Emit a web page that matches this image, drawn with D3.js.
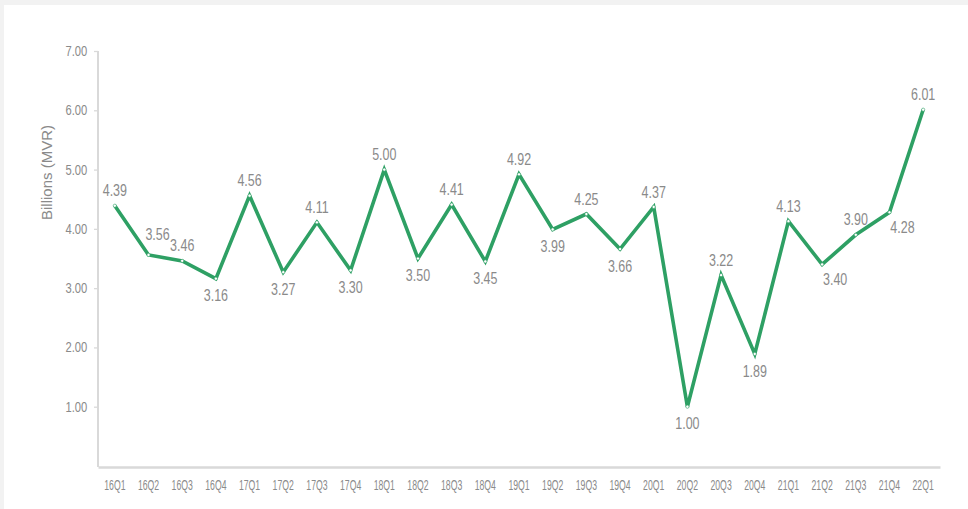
<!DOCTYPE html>
<html>
<head>
<meta charset="utf-8">
<script src="https://cdn.jsdelivr.net/npm/d3@7"></script>
<style>
  html, body { margin: 0; padding: 0; background: #f2f2f2; }
  svg { display: block; }
  text { font-family: "Liberation Sans Narrow", "Liberation Sans", sans-serif; fill: #8a8a8a; }
</style>
</head>
<body>
<div class="chart"></div>
<script>
'use strict';

const quarters = ['16Q1', '16Q2', '16Q3', '16Q4', '17Q1', '17Q2', '17Q3', '17Q4',
  '18Q1', '18Q2', '18Q3', '18Q4', '19Q1', '19Q2', '19Q3', '19Q4',
  '20Q1', '20Q2', '20Q3', '20Q4', '21Q1', '21Q2', '21Q3', '21Q4', '22Q1'];
const values = [4.39, 3.56, 3.46, 3.16, 4.56, 3.27, 4.11, 3.30,
  5.00, 3.50, 4.41, 3.45, 4.92, 3.99, 4.25, 3.66,
  4.37, 1.00, 3.22, 1.89, 4.13, 3.40, 3.90, 4.28, 6.01];
const yTicks = [1, 2, 3, 4, 5, 6, 7];

// where each data label sits relative to its point
const labelPlace = ['above', 'aboveRight', 'above', 'below', 'above', 'below', 'above', 'below',
  'above', 'below', 'above', 'below', 'above', 'below', 'above', 'below',
  'above', 'below', 'above', 'below', 'above', 'belowRight', 'above', 'belowRight', 'above'];
const placeOffset = {
  above: [0, -15],
  aboveRight: [9, -21],
  below: [0, 17],
  belowRight: [13, 15]
};

const FULL_WIDTH = 968;
const FULL_HEIGHT = 509;
const margin = { top: 51, right: 28, bottom: 43, left: 98 };
const WIDTH = FULL_WIDTH - margin.left - margin.right;
const HEIGHT = 466 - margin.top;
const GREEN = '#2ea064';
const GRID = '#d9d9d9';

// the original font is much narrower than anything installed, so squeeze it
const squeeze = (sx) => (sel) => sel.attr('transform', 'scale(' + sx + ',1)');

const svg = d3.select('.chart')
  .append('svg')
    .attr('width', FULL_WIDTH)
    .attr('height', FULL_HEIGHT);

svg.append('rect')
  .attr('x', 4)
  .attr('y', 5)
  .attr('width', FULL_WIDTH - 4)
  .attr('height', FULL_HEIGHT - 5)
  .attr('fill', '#ffffff');

const g = svg.append('g')
  .attr('transform', 'translate(' + margin.left + ',' + margin.top + ')');

const x = d3.scaleBand()
  .domain(quarters)
  .range([0, WIDTH]);

const y = d3.scaleLinear()
  .domain([0, 7])
  .range([HEIGHT, 0]);

const cx = (i) => x(quarters[i]) + x.bandwidth() / 2;

// y axis
const yAxis = g.append('g')
  .call(d3.axisLeft(y).tickValues(yTicks).tickFormat(d3.format('.2f')).tickSize(4).tickPadding(9.5));
yAxis.select('.domain').remove();
yAxis.selectAll('line').attr('stroke', GRID).attr('stroke-width', 1.3);
yAxis.selectAll('text')
  .attr('font-size', '14px')
  .attr('fill', '#8a8a8a')
  .call(squeeze(0.8));

g.append('line')
  .attr('x1', 0).attr('x2', 0)
  .attr('y1', y(7)).attr('y2', HEIGHT + 1)
  .attr('stroke', GRID)
  .attr('stroke-width', 2);

// x axis
const xAxis = g.append('g')
  .attr('transform', 'translate(0,' + (HEIGHT + 1) + ')')
  .call(d3.axisBottom(x).tickSize(0).tickPadding(13));
xAxis.select('.domain').attr('stroke', GRID).attr('stroke-width', 2.5);
xAxis.selectAll('text')
  .attr('font-size', '14.5px')
  .attr('fill', '#8a8a8a')
  .call(squeeze(0.6));

g.append('text')
  .attr('transform', 'rotate(-90)')
  .attr('x', -(y(4.95)))
  .attr('y', -46)
  .attr('text-anchor', 'middle')
  .attr('font-size', '15px')
  .text('Billions (MVR)');

// line
const line = d3.line()
  .x((d, i) => cx(i))
  .y((d) => y(d));

g.append('path')
  .datum(values)
  .attr('fill', 'none')
  .attr('stroke', GREEN)
  .attr('stroke-width', 3.6)
  .attr('stroke-linejoin', 'miter')
  .attr('d', line);

g.selectAll('.dot')
  .data(values)
  .enter()
  .append('circle')
  .attr('class', 'dot')
  .attr('cx', (d, i) => cx(i))
  .attr('cy', (d) => y(d))
  .attr('r', 1.6)
  .attr('fill', '#ffffff')
  .attr('stroke', GREEN)
  .attr('stroke-width', 0.6);

g.selectAll('.label')
  .data(values)
  .enter()
  .append('text')
  .attr('class', 'label')
  .attr('transform', (d, i) => 'translate(' + (cx(i) + placeOffset[labelPlace[i]][0]) + ','
    + (y(d) + placeOffset[labelPlace[i]][1]) + ') scale(0.78,1)')
  .attr('dy', '0.35em')
  .attr('text-anchor', 'middle')
  .attr('font-size', '16px')
  .text((d) => d.toFixed(2));
</script>
</body>
</html>
